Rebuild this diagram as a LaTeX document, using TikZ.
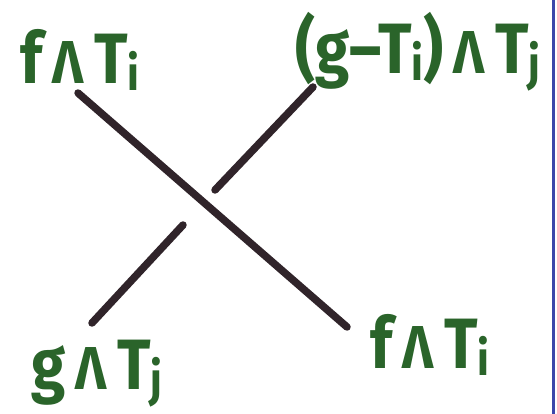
\documentclass[tikz,border=0pt]{standalone}
\usepackage{fontspec}
\setmainfont{Fira Sans}
\definecolor{inkgreen}{RGB}{42,100,42}
\definecolor{inkdark}{RGB}{48,36,42}
\definecolor{inkblue}{RGB}{60,70,170}
\newcommand{\wdg}{\,\scalebox{0.85}{Λ}\,}
\newcommand{\sbs}[1]{\raisebox{-0.1em}{\fontsize{42}{42}\selectfont #1}}
\newcommand{\lbl}[1]{\scalebox{1}[1.15]{#1}}
\begin{document}
\begin{tikzpicture}[x=1pt,y=-1pt,
  lab/.style={text=inkgreen, font=\fontsize{62}{62}\selectfont\bfseries, inner sep=0pt},
  strand/.style={draw=inkdark, line width=7.5pt, line cap=round}]
\useasboundingbox (0,0) rectangle (557,414);
\fill[white] (0,0) rectangle (557,414);
% labels
\node[lab] (tl) at (80,60) {\lbl{f\wdg T\sbs{i}}};
\node[lab] (tr) at (418,52) {\lbl{(g–T\sbs{i})\wdg T\sbs{j}}};
\node[lab] (bl) at (97,374) {\lbl{g\wdg T\sbs{j}}};
\node[lab] (br) at (430,345) {\lbl{f\wdg T\sbs{i}}};
% strand end points
\coordinate (a1) at (78,93);
\coordinate (d1) at (347,327);
\coordinate (c1) at (92,323);
\coordinate (c2) at (183,225);
\coordinate (b2) at (215,190);
\coordinate (b1) at (313,87);
% over strand
\draw[strand] (a1) -- (d1);
% under strand, broken at the crossing
\draw[strand] (c1) -- (c2);
\draw[strand] (b2) -- (b1);
% blue edge line
\draw[inkblue, line width=3pt] (553,0) -- (553,414);
\end{tikzpicture}
\end{document}
